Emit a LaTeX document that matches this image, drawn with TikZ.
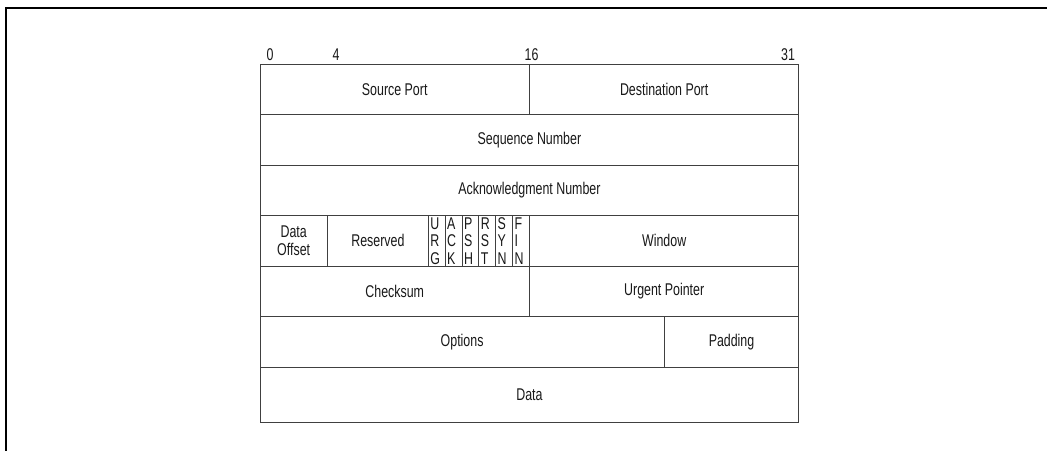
\documentclass[tikz,border=0pt]{standalone}
\usepackage{fontspec}
\setmainfont[FakeStretch=0.73]{Liberation Sans}
\usepackage{tikz}
\usetikzlibrary{positioning}

\begin{document}
\begin{tikzpicture}[x=1pt, y=1pt, node distance=0pt]
		\tikzstyle{field} = [rectangle, draw=black!75, line width=0.9pt, inner sep=0pt, outer sep=0pt, minimum height=50.5pt, text=black!90, font=\fontsize{17}{17.5}\selectfont, align=center]
		\tikzstyle{bits} = [minimum width=#1*16.84pt]
		\tikzstyle{flag} = [field, bits=1, text width=13pt, align=left]
		\tikzstyle{bitnum} = [anchor=base, inner sep=0pt, text=black!90, font=\fontsize{17}{17.5}\selectfont]
		\tikzstyle{frame} = [draw, line width=1.6pt]
		
		\useasboundingbox (0,0) rectangle (1047,451);
		\fill [white] (0,0) rectangle (1047,451);
		\coordinate (corner) at (6,443);
		\path [frame] (1047,443) -- (corner) -- (6,0);
		
		\node [field, bits=16, anchor=north west] (srcport) at (260,387) {Source Port};
		\node [field, bits=16, right=of srcport] (dstport) {Destination Port};
		
		\node [field, bits=32, below=of srcport.south west, anchor=north west] (seqnum) {Sequence Number};
		\node [field, bits=32, below=of seqnum.south west, anchor=north west] (acknum) {Acknowledgment Number};
		
		\node [field, bits=4, below=of acknum.south west, anchor=north west] (dataoff) {Data\\Offset};
		\node [field, bits=6, right=of dataoff] (reserved) {Reserved};
		\node [flag, right=of reserved] (urg) {U\\R\\G};
		\node [flag, right=of urg] (ack) {A\\C\\K};
		\node [flag, right=of ack] (psh) {P\\S\\H};
		\node [flag, right=of psh] (rst) {R\\S\\T};
		\node [flag, right=of rst] (syn) {S\\Y\\N};
		\node [flag, right=of syn] (fin) {F\\I\\N};
		\node [field, bits=16, right=of fin] (window) {Window};
		
		\node [field, bits=16, below=of dataoff.south west, anchor=north west] (checksum) {Checksum};
		\node [field, bits=16, right=of checksum] (urgptr) {Urgent Pointer};
		
		\node [field, bits=24, below=of checksum.south west, anchor=north west] (options) {Options};
		\node [field, bits=8, right=of options] (padding) {Padding};
		
		\node [field, bits=32, minimum height=55.5pt, below=of options.south west, anchor=north west] (data) {Data};
		
		% bit positions
		\node [bitnum] (bit0) at (270,391) {0};
		\node [bitnum] (bit4) at (336,391) {4};
		\node [bitnum] (bit16) at (531.5,391) {16};
		\node [bitnum] (bit31) at (788,391) {31};
	\end{tikzpicture}
\end{document}
